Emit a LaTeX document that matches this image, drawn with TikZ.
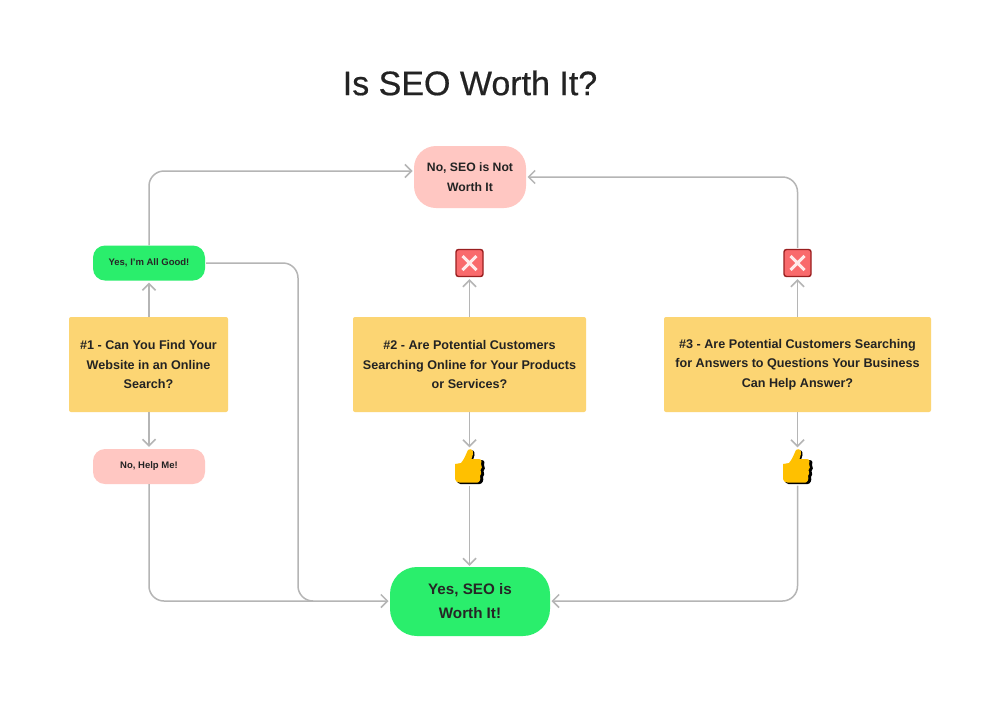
\documentclass[tikz,border=0pt]{standalone}
\usepackage{fontspec}
\setmainfont{Liberation Sans}
\newfontfamily\titlefont[FakeBold=0.5]{Liberation Sans}
\usetikzlibrary{arrows.meta,calc,positioning}
\definecolor{SEOInk}{HTML}{232323}
\definecolor{SEOGreen}{HTML}{2AEE6C}
\definecolor{SEOPink}{HTML}{FFC7C2}
\definecolor{SEOYellow}{HTML}{FCD573}
\definecolor{SEOLine}{HTML}{B5B5B5}
\definecolor{SEORed}{HTML}{F96A6C}
\definecolor{SEODark}{HTML}{9A1F20}
\definecolor{SEOThumb}{HTML}{FFC000}

\newcommand{\lowered}[1]{\raisebox{-1pt}{#1}}
\newcommand{\thumbicon}[1]{%
  \begin{scope}[shift={(#1)}]
    \path[fill=black] (-13,-1) -- (-7,-2) .. controls (-4,-6) and (-2,-11) .. (0,-15)
      .. controls (3,-17) and (5.5,-15) .. (5,-11) -- (3.5,-6) -- (12,-6)
      .. controls (15.5,-6) and (15.5,-2) .. (14.5,-1) .. controls (16,1) and (15.5,4) .. (14,5)
      .. controls (15.5,7) and (14.5,10) .. (13.5,11) .. controls (14.5,14) and (13,18) .. (10,18)
      -- (-9,18) .. controls (-11,18) and (-13,16) .. (-13,14) -- cycle;
    \path[fill=SEOThumb] (-14.5,-2) -- (-8.5,-3) .. controls (-5,-7) and (-3.5,-12) .. (-1.5,-16)
      .. controls (1.5,-18) and (4,-16) .. (3.5,-12) -- (2,-7) -- (9.5,-7)
      .. controls (12.5,-7) and (12.5,-3) .. (11.5,-2) .. controls (13,0) and (12.5,3) .. (11,4)
      .. controls (12.5,6) and (11.5,9) .. (10.5,10) .. controls (11.5,13) and (10,16.5) .. (8,16.5)
      -- (-10,16.5) .. controls (-12.5,16.5) and (-14.5,15) .. (-14.5,13) -- cycle;
  \end{scope}}

\begin{document}
\begin{tikzpicture}[
      x=1pt,y=-1pt,
      question/.style={rectangle,rounded corners=2pt,fill=SEOYellow,text=SEOInk,
        align=center,font=\fontsize{12.6}{19.5}\selectfont\bfseries,inner sep=0pt},
      answer/.style={rectangle,fill=#1,align=center,inner sep=0pt},
      smallanswer/.style={answer=#1,rounded corners=12pt,minimum width=112pt,minimum height=35pt,
        font=\fontsize{9.5}{12}\selectfont\bfseries},
      crossicon/.style={rectangle,rounded corners=2.5pt,fill=SEORed,draw=SEODark,line width=1.4pt,
        minimum size=27pt,inner sep=0pt,
        path picture={\draw[white!92!red,line width=3pt]
          ($(path picture bounding box.north west)+(6.5,6.5)$) -- ($(path picture bounding box.south east)+(-6.5,-6.5)$)
          ($(path picture bounding box.north east)+(-6.5,6.5)$) -- ($(path picture bounding box.south west)+(6.5,-6.5)$);}},
      thumbspot/.style={rectangle,minimum width=30pt,minimum height=37pt,inner sep=0pt},
      link/.style={draw=SEOLine,line width=1.5pt,rounded corners=15pt},
      linkto/.style={link,-{Straight Barb[length=6.5pt,width=13pt,line width=1.5pt]}}
    ]
      \useasboundingbox (0,0) rectangle (1000,705);
      \path[fill=white] (0,0) rectangle (1000,705);

      \node[font=\fontsize{34}{40}\selectfont\titlefont,text=SEOInk] (title) at (470,83) {Is SEO Worth It?};

      \node[answer=SEOPink,rounded corners=22pt,minimum width=112pt,minimum height=62pt,text=SEOInk,
        font=\fontsize{12.2}{19.5}\selectfont\bfseries] (noseo) at (470,177) {\lowered{No, SEO is Not}\\\lowered{Worth It}};
      \node[answer=SEOGreen,rounded corners=27pt,minimum width=160pt,minimum height=69pt,text=black!85,
        font=\fontsize{15.2}{24}\selectfont\bfseries] (yesseo) at (470,601.5) {\lowered{Yes, SEO is}\\\lowered{Worth It!}};

      \node[smallanswer=SEOGreen,text=black!85] (yesgood) at (149,263) {\raisebox{-2pt}{Yes, I'm All Good!}};
      \node[smallanswer=SEOPink,text=SEOInk] (nohelp) at (149,466.5) {\raisebox{-2pt}{No, Help Me!}};

      \node[question,minimum width=159pt,minimum height=95pt] (qone) at (148.5,364.5)
        {\lowered{\#1 - Can You Find Your}\\\lowered{Website in an Online}\\\lowered{Search?}};
      \node[question,minimum width=233pt,minimum height=95pt] (qtwo) at (469.5,364.5)
        {\lowered{\#2 - Are Potential Customers}\\\lowered{Searching Online for Your Products}\\\lowered{or Services?}};
      \node[question,minimum width=267pt,minimum height=95pt] (qthree) at (797.5,364.5)
        {\lowered{\#3 - Are Potential Customers Searching}\\\lowered{for Answers to Questions Your Business}\\\lowered{Can Help Answer?}};

      \node[crossicon] (crosstwo) at (469.5,263) {};
      \node[crossicon] (crossthree) at (797.5,263) {};
      \node[thumbspot] (thumbtwo) at (469.5,467) {};
      \node[thumbspot] (thumbthree) at (797.5,467) {};
      \thumbicon{469.5,466}
      \thumbicon{797.5,466}

      \coordinate (noseoleft) at (412.5,171);
      \coordinate (noseoright) at (527.5,177);
      \coordinate (yesleft) at (388.5,601);
      \coordinate (yesright) at (551.5,601);
      \coordinate (goodstart) at (206,263);
      \coordinate (mergeleft) at (298,601);

      \draw[linkto] (yesgood.north) |- (noseoleft);
      \draw[linkto] (crossthree.north) ++(0,-1) |- (noseoright);
      \draw[linkto] (yesgood.south |- qone.north) -- ($(yesgood.south)+(0,2)$);
      \draw[linkto] (nohelp.north |- qone.south) -- ($(nohelp.north)+(0,-2)$);
      \draw[linkto] (nohelp.south) |- (yesleft);
      \draw[link] (goodstart) -| (mergeleft) -- ++(15,0);
      \draw[linkto] (qtwo.north) -- ($(crosstwo.south)+(0,2)$);
      \draw[linkto] (qthree.north) -- ($(crossthree.south)+(0,2)$);
      \draw[linkto] (qtwo.south) -- ($(thumbtwo.north)+(0,-1)$);
      \draw[linkto] (qthree.south) -- ($(thumbthree.north)+(0,-1)$);
      \draw[linkto] (thumbtwo.south) -- ($(thumbtwo.south |- yesseo.north)+(0,-1)$);
      \draw[linkto] (thumbthree.south) |- (yesright);
    \end{tikzpicture}
\end{document}
